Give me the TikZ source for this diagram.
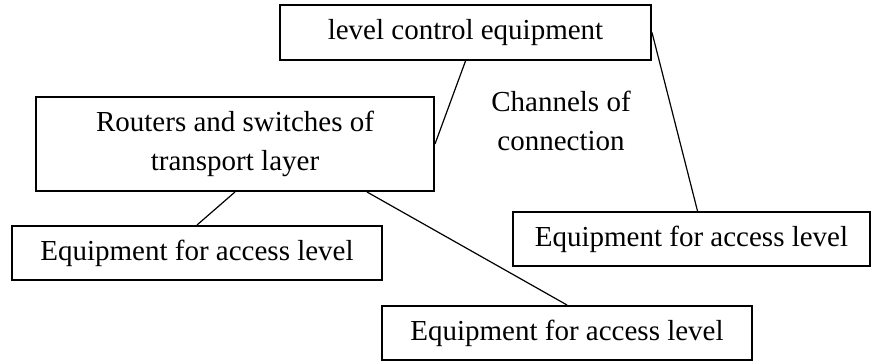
\documentclass[tikz,border=0pt]{standalone}
\usepackage{fontspec}
\setmainfont{Liberation Serif}
\usetikzlibrary{positioning,calc}

\begin{document}
\begin{tikzpicture}[
    x=1pt, y=1pt,
    node distance=55pt,
    font=\fontsize{14.5}{19.5}\selectfont,
    unit/.style={
		rectangle,
		draw=black,
		line width=1pt,
		text centered,
		align=center,
%		text width=5cm,
		minimum height=27pt,
		minimum width=185pt,
		inner sep=0pt,
		fill=white
	},
	link/.style={
		draw,
		line width=0.6pt
	}
  ]

\useasboundingbox (0,0) rectangle (436,-181);

 \node [unit, minimum width=185.5pt, minimum height=27.5pt] (control) at (232.75,-16.25) {level control equipment};
 \node [unit, below of=control, xshift=-115.25pt, yshift=-0.75pt, minimum width=199pt, minimum height=47pt] (routers)
 {Routers and switches of\\transport layer};

% // access level
 \node [unit, below of=routers, xshift=-19pt, yshift=0.5pt] (access1) {Equipment for access level};
 \node [unit, below of=control, xshift=113pt, yshift=-48.25pt, minimum width=178.5pt] (access2) {Equipment for access level};
 \node [unit, below of=access1, xshift=185pt, yshift=15pt] (access3) {Equipment for access level};

 \node [align=center, below of=control, xshift=47.75pt, yshift=10.75pt] (channels) {Channels of\\connection};

 \draw [link] (control.south) -- (routers.east);
 \draw [link] (control.east) -- ([xshift=3pt]access2.north);
 \draw [link] (routers.south) -- (access1.north);
 \draw [link] ($(routers.south)!0.66!(routers.south east)$) -- (access3.north);

\end{tikzpicture}
\end{document}
